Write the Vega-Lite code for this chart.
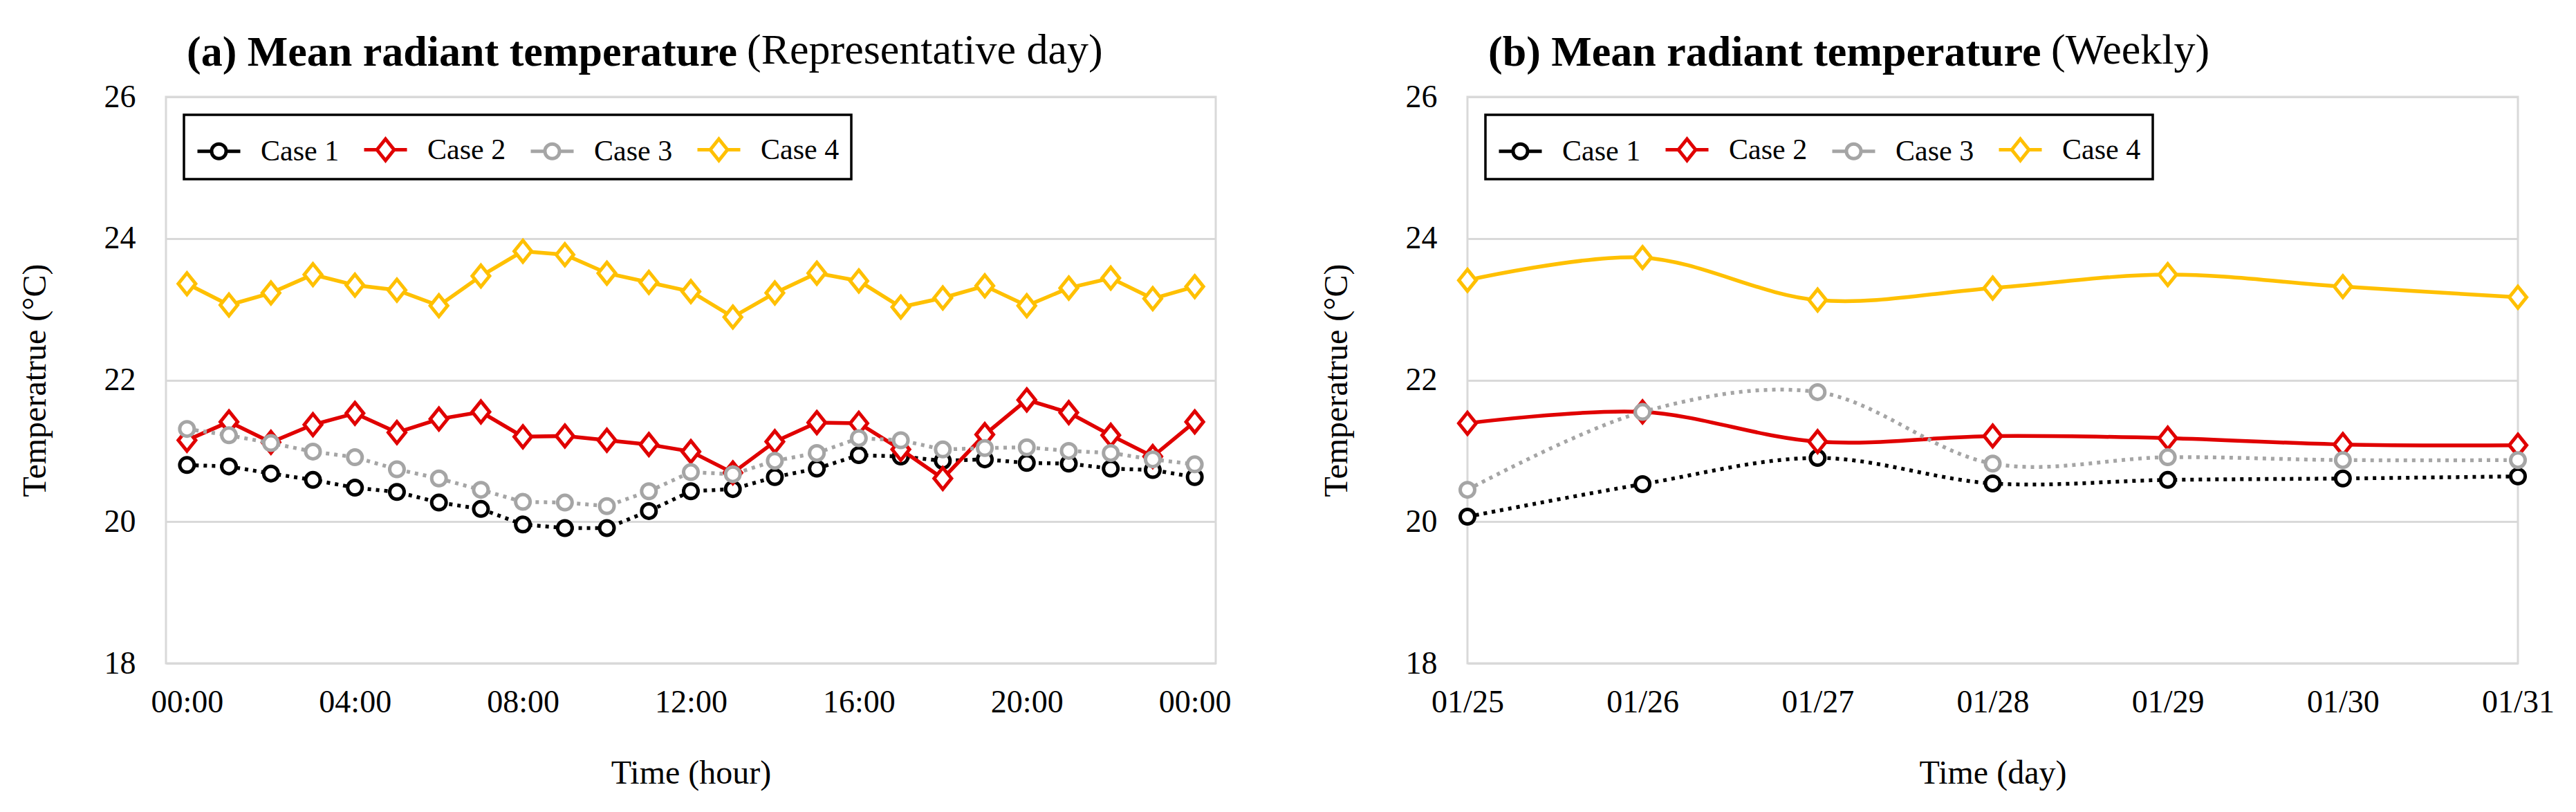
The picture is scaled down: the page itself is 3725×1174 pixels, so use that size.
{
  "$schema": "https://vega.github.io/schema/vega-lite/v6.json",
  "padding": {"left": 25, "top": 41, "right": 0, "bottom": 0},
  "background": "white",
  "config": {
    "font": "Liberation Serif",
    "view": {"stroke": "#D9D9D9", "strokeWidth": 3},
    "axis": {
      "labelFont": "Liberation Serif", "titleFont": "Liberation Serif",
      "labelFontSize": 46, "titleFontSize": 48, "titleFontWeight": "normal",
      "labelColor": "black", "titleColor": "black",
      "domain": false, "ticks": false, "tickSize": 0,
      "gridColor": "#D9D9D9", "gridWidth": 3, "labelFlush": false
    },
    "legend": {
      "orient": "top-left", "offset": 26, "padding": 17,
      "strokeColor": "black", "strokeWidth": 3.5, "fillColor": "white",
      "direction": "horizontal", "columns": 4, "columnPadding": 25,
      "labelOffset": 27, "labelFont": "Liberation Serif", "labelFontSize": 42,
      "labelColor": "black", "symbolSize": 3844, "symbolStrokeWidth": 5,
      "title": null
    }
  },
  "datasets": {
    "hourly": [
      {"case": "Case 1", "hour": 0, "t": 20.80}, {"case": "Case 1", "hour": 1, "t": 20.78}, {"case": "Case 1", "hour": 2, "t": 20.68}, {"case": "Case 1", "hour": 3, "t": 20.59}, {"case": "Case 1", "hour": 4, "t": 20.48}, {"case": "Case 1", "hour": 5, "t": 20.42}, {"case": "Case 1", "hour": 6, "t": 20.27}, {"case": "Case 1", "hour": 7, "t": 20.18}, {"case": "Case 1", "hour": 8, "t": 19.96}, {"case": "Case 1", "hour": 9, "t": 19.91}, {"case": "Case 1", "hour": 10, "t": 19.91}, {"case": "Case 1", "hour": 11, "t": 20.15}, {"case": "Case 1", "hour": 12, "t": 20.43}, {"case": "Case 1", "hour": 13, "t": 20.46}, {"case": "Case 1", "hour": 14, "t": 20.63}, {"case": "Case 1", "hour": 15, "t": 20.75}, {"case": "Case 1", "hour": 16, "t": 20.94}, {"case": "Case 1", "hour": 17, "t": 20.92}, {"case": "Case 1", "hour": 18, "t": 20.86}, {"case": "Case 1", "hour": 19, "t": 20.88}, {"case": "Case 1", "hour": 20, "t": 20.83}, {"case": "Case 1", "hour": 21, "t": 20.82}, {"case": "Case 1", "hour": 22, "t": 20.75}, {"case": "Case 1", "hour": 23, "t": 20.73}, {"case": "Case 1", "hour": 24, "t": 20.63},
      {"case": "Case 2", "hour": 0, "t": 21.15}, {"case": "Case 2", "hour": 1, "t": 21.41}, {"case": "Case 2", "hour": 2, "t": 21.12}, {"case": "Case 2", "hour": 3, "t": 21.37}, {"case": "Case 2", "hour": 4, "t": 21.53}, {"case": "Case 2", "hour": 5, "t": 21.26}, {"case": "Case 2", "hour": 6, "t": 21.45}, {"case": "Case 2", "hour": 7, "t": 21.55}, {"case": "Case 2", "hour": 8, "t": 21.20}, {"case": "Case 2", "hour": 9, "t": 21.21}, {"case": "Case 2", "hour": 10, "t": 21.15}, {"case": "Case 2", "hour": 11, "t": 21.09}, {"case": "Case 2", "hour": 12, "t": 20.99}, {"case": "Case 2", "hour": 13, "t": 20.69}, {"case": "Case 2", "hour": 14, "t": 21.13}, {"case": "Case 2", "hour": 15, "t": 21.40}, {"case": "Case 2", "hour": 16, "t": 21.39}, {"case": "Case 2", "hour": 17, "t": 21.02}, {"case": "Case 2", "hour": 18, "t": 20.61}, {"case": "Case 2", "hour": 19, "t": 21.23}, {"case": "Case 2", "hour": 20, "t": 21.72}, {"case": "Case 2", "hour": 21, "t": 21.54}, {"case": "Case 2", "hour": 22, "t": 21.22}, {"case": "Case 2", "hour": 23, "t": 20.92}, {"case": "Case 2", "hour": 24, "t": 21.41},
      {"case": "Case 3", "hour": 0, "t": 21.31}, {"case": "Case 3", "hour": 1, "t": 21.22}, {"case": "Case 3", "hour": 2, "t": 21.11}, {"case": "Case 3", "hour": 3, "t": 20.99}, {"case": "Case 3", "hour": 4, "t": 20.91}, {"case": "Case 3", "hour": 5, "t": 20.74}, {"case": "Case 3", "hour": 6, "t": 20.61}, {"case": "Case 3", "hour": 7, "t": 20.45}, {"case": "Case 3", "hour": 8, "t": 20.28}, {"case": "Case 3", "hour": 9, "t": 20.27}, {"case": "Case 3", "hour": 10, "t": 20.22}, {"case": "Case 3", "hour": 11, "t": 20.43}, {"case": "Case 3", "hour": 12, "t": 20.70}, {"case": "Case 3", "hour": 13, "t": 20.67}, {"case": "Case 3", "hour": 14, "t": 20.86}, {"case": "Case 3", "hour": 15, "t": 20.97}, {"case": "Case 3", "hour": 16, "t": 21.18}, {"case": "Case 3", "hour": 17, "t": 21.15}, {"case": "Case 3", "hour": 18, "t": 21.02}, {"case": "Case 3", "hour": 19, "t": 21.04}, {"case": "Case 3", "hour": 20, "t": 21.05}, {"case": "Case 3", "hour": 21, "t": 21.00}, {"case": "Case 3", "hour": 22, "t": 20.97}, {"case": "Case 3", "hour": 23, "t": 20.88}, {"case": "Case 3", "hour": 24, "t": 20.81},
      {"case": "Case 4", "hour": 0, "t": 23.36}, {"case": "Case 4", "hour": 1, "t": 23.06}, {"case": "Case 4", "hour": 2, "t": 23.23}, {"case": "Case 4", "hour": 3, "t": 23.49}, {"case": "Case 4", "hour": 4, "t": 23.34}, {"case": "Case 4", "hour": 5, "t": 23.27}, {"case": "Case 4", "hour": 6, "t": 23.05}, {"case": "Case 4", "hour": 7, "t": 23.47}, {"case": "Case 4", "hour": 8, "t": 23.82}, {"case": "Case 4", "hour": 9, "t": 23.77}, {"case": "Case 4", "hour": 10, "t": 23.51}, {"case": "Case 4", "hour": 11, "t": 23.38}, {"case": "Case 4", "hour": 12, "t": 23.25}, {"case": "Case 4", "hour": 13, "t": 22.89}, {"case": "Case 4", "hour": 14, "t": 23.23}, {"case": "Case 4", "hour": 15, "t": 23.51}, {"case": "Case 4", "hour": 16, "t": 23.40}, {"case": "Case 4", "hour": 17, "t": 23.03}, {"case": "Case 4", "hour": 18, "t": 23.16}, {"case": "Case 4", "hour": 19, "t": 23.33}, {"case": "Case 4", "hour": 20, "t": 23.05}, {"case": "Case 4", "hour": 21, "t": 23.30}, {"case": "Case 4", "hour": 22, "t": 23.44}, {"case": "Case 4", "hour": 23, "t": 23.15}, {"case": "Case 4", "hour": 24, "t": 23.32}
    ],
    "weekly": [
      {"case": "Case 1", "day": "01/25", "t": 20.07}, {"case": "Case 1", "day": "01/26", "t": 20.53}, {"case": "Case 1", "day": "01/27", "t": 20.90}, {"case": "Case 1", "day": "01/28", "t": 20.54}, {"case": "Case 1", "day": "01/29", "t": 20.59}, {"case": "Case 1", "day": "01/30", "t": 20.61}, {"case": "Case 1", "day": "01/31", "t": 20.64},
      {"case": "Case 2", "day": "01/25", "t": 21.39}, {"case": "Case 2", "day": "01/26", "t": 21.55}, {"case": "Case 2", "day": "01/27", "t": 21.13}, {"case": "Case 2", "day": "01/28", "t": 21.21}, {"case": "Case 2", "day": "01/29", "t": 21.18}, {"case": "Case 2", "day": "01/30", "t": 21.09}, {"case": "Case 2", "day": "01/31", "t": 21.08},
      {"case": "Case 3", "day": "01/25", "t": 20.45}, {"case": "Case 3", "day": "01/26", "t": 21.55}, {"case": "Case 3", "day": "01/27", "t": 21.83}, {"case": "Case 3", "day": "01/28", "t": 20.82}, {"case": "Case 3", "day": "01/29", "t": 20.91}, {"case": "Case 3", "day": "01/30", "t": 20.87}, {"case": "Case 3", "day": "01/31", "t": 20.87},
      {"case": "Case 4", "day": "01/25", "t": 23.41}, {"case": "Case 4", "day": "01/26", "t": 23.73}, {"case": "Case 4", "day": "01/27", "t": 23.13}, {"case": "Case 4", "day": "01/28", "t": 23.30}, {"case": "Case 4", "day": "01/29", "t": 23.49}, {"case": "Case 4", "day": "01/30", "t": 23.32}, {"case": "Case 4", "day": "01/31", "t": 23.17}
    ]
  },
  "hconcat": [
    {
      "title": {"text": "(Representative day)", "anchor": "start", "frame": "group", "dx": 840, "offset": -110, "fontSize": 62, "fontWeight": "normal", "font": "Liberation Serif", "color": "black", "baseline": "alphabetic"},
      "vconcat": [
        {
          "title": {"text": "(a) Mean radiant temperature", "anchor": "start", "frame": "group", "dx": 30, "offset": -40, "fontSize": 62, "fontWeight": "bold", "font": "Liberation Serif", "color": "black", "baseline": "alphabetic"},
          "width": 1518, "height": 819,
          "data": {"name": "hourly"},
          "encoding": {
            "x": {"field": "hour", "type": "quantitative", "scale": {"domain": [-0.5, 24.5], "nice": false, "zero": false},
                  "axis": {"title": "Time (hour)", "values": [0, 4, 8, 12, 16, 20, 24], "grid": false, "labelPadding": 34, "titlePadding": 56,
                           "labelExpr": "(datum.value % 24 < 10 ? '0' : '') + (datum.value % 24) + ':00'"}},
            "y": {"field": "t", "type": "quantitative", "scale": {"domain": [18, 26], "nice": false, "zero": false},
                  "axis": {"title": "Temperatrue (°C)", "values": [18, 20, 22, 24, 26], "grid": true, "labelPadding": 44, "titlePadding": 75}},
            "color": {"field": "case", "type": "nominal", "scale": {"domain": ["Case 1", "Case 2", "Case 3", "Case 4"], "range": ["#000000", "#E00000", "#A5A5A5", "#FFC000"]},
                      "legend": {"encode": {"symbols": {"update": {
                        "shape": {"signal": "(datum.value == 'Case 1' || datum.value == 'Case 3') ? 'M-1,0L-0.34,0M0.34,0L1,0M0.34,0A0.34,0.34,0,1,1,-0.34,0A0.34,0.34,0,1,1,0.34,0Z' : 'M-1,0L-0.4,0M0.4,0L1,0M0,-0.5L0.4,0L0,0.5L-0.4,0Z'"},
                        "fill": {"value": "white"}, "strokeDash": {"value": []}, "strokeWidth": {"value": 5}, "opacity": {"value": 1}}}}}}
          },
          "layer": [
            {"transform": [{"filter": "datum.case == 'Case 1'"}], "mark": {"type": "line", "strokeWidth": 5.5, "strokeDash": [5, 7]}},
            {"transform": [{"filter": "datum.case == 'Case 1'"}], "mark": {"type": "point", "filled": false, "fill": "white", "strokeWidth": 5, "size": 400, "opacity": 1, "shape": "M1.05,0A1.05,1.05,0,1,1,-1.05,0A1.05,1.05,0,1,1,1.05,0Z"}},
            {"transform": [{"filter": "datum.case == 'Case 2'"}], "mark": {"type": "line", "strokeWidth": 5.5}},
            {"transform": [{"filter": "datum.case == 'Case 2'"}], "mark": {"type": "point", "filled": false, "fill": "white", "strokeWidth": 5, "size": 400, "opacity": 1, "shape": "M0,-1.55L1.25,0L0,1.55L-1.25,0Z"}},
            {"transform": [{"filter": "datum.case == 'Case 3'"}], "mark": {"type": "line", "strokeWidth": 5.5, "strokeDash": [5, 7]}},
            {"transform": [{"filter": "datum.case == 'Case 3'"}], "mark": {"type": "point", "filled": false, "fill": "white", "strokeWidth": 5, "size": 400, "opacity": 1, "shape": "M1.05,0A1.05,1.05,0,1,1,-1.05,0A1.05,1.05,0,1,1,1.05,0Z"}},
            {"transform": [{"filter": "datum.case == 'Case 4'"}], "mark": {"type": "line", "strokeWidth": 5.5}},
            {"transform": [{"filter": "datum.case == 'Case 4'"}], "mark": {"type": "point", "filled": false, "fill": "white", "strokeWidth": 5, "size": 400, "opacity": 1, "shape": "M0,-1.55L1.25,0L0,1.55L-1.25,0Z"}}
          ]
        }
      ],
      "resolve": {"scale": {"color": "independent"}, "legend": {"color": "independent"}}
    },
    {
      "title": {"text": "(Weekly)", "anchor": "start", "frame": "group", "dx": 844, "offset": -110, "fontSize": 62, "fontWeight": "normal", "font": "Liberation Serif", "color": "black", "baseline": "alphabetic"},
      "vconcat": [
        {
          "title": {"text": "(b) Mean radiant temperature", "anchor": "start", "frame": "group", "dx": 30, "offset": -40, "fontSize": 62, "fontWeight": "bold", "font": "Liberation Serif", "color": "black", "baseline": "alphabetic"},
          "width": 1519, "height": 819,
          "data": {"name": "weekly"},
          "encoding": {
            "x": {"field": "day", "type": "ordinal", "scale": {"padding": 0},
                  "axis": {"title": "Time (day)", "grid": false, "labelAngle": 0, "labelPadding": 34, "titlePadding": 56}},
            "y": {"field": "t", "type": "quantitative", "scale": {"domain": [18, 26], "nice": false, "zero": false},
                  "axis": {"title": "Temperatrue (°C)", "values": [18, 20, 22, 24, 26], "grid": true, "labelPadding": 44, "titlePadding": 75}},
            "color": {"field": "case", "type": "nominal", "scale": {"domain": ["Case 1", "Case 2", "Case 3", "Case 4"], "range": ["#000000", "#E00000", "#A5A5A5", "#FFC000"]},
                      "legend": {"encode": {"symbols": {"update": {
                        "shape": {"signal": "(datum.value == 'Case 1' || datum.value == 'Case 3') ? 'M-1,0L-0.34,0M0.34,0L1,0M0.34,0A0.34,0.34,0,1,1,-0.34,0A0.34,0.34,0,1,1,0.34,0Z' : 'M-1,0L-0.4,0M0.4,0L1,0M0,-0.5L0.4,0L0,0.5L-0.4,0Z'"},
                        "fill": {"value": "white"}, "strokeDash": {"value": []}, "strokeWidth": {"value": 5}, "opacity": {"value": 1}}}}}}
          },
          "layer": [
            {"transform": [{"filter": "datum.case == 'Case 1'"}], "mark": {"type": "line", "strokeWidth": 5.5, "strokeDash": [5, 7], "interpolate": "catmull-rom"}},
            {"transform": [{"filter": "datum.case == 'Case 1'"}], "mark": {"type": "point", "filled": false, "fill": "white", "strokeWidth": 5, "size": 400, "opacity": 1, "shape": "M1.05,0A1.05,1.05,0,1,1,-1.05,0A1.05,1.05,0,1,1,1.05,0Z"}},
            {"transform": [{"filter": "datum.case == 'Case 2'"}], "mark": {"type": "line", "strokeWidth": 5.5, "interpolate": "catmull-rom"}},
            {"transform": [{"filter": "datum.case == 'Case 2'"}], "mark": {"type": "point", "filled": false, "fill": "white", "strokeWidth": 5, "size": 400, "opacity": 1, "shape": "M0,-1.55L1.25,0L0,1.55L-1.25,0Z"}},
            {"transform": [{"filter": "datum.case == 'Case 3'"}], "mark": {"type": "line", "strokeWidth": 5.5, "strokeDash": [5, 7], "interpolate": "catmull-rom"}},
            {"transform": [{"filter": "datum.case == 'Case 3'"}], "mark": {"type": "point", "filled": false, "fill": "white", "strokeWidth": 5, "size": 400, "opacity": 1, "shape": "M1.05,0A1.05,1.05,0,1,1,-1.05,0A1.05,1.05,0,1,1,1.05,0Z"}},
            {"transform": [{"filter": "datum.case == 'Case 4'"}], "mark": {"type": "line", "strokeWidth": 5.5, "interpolate": "catmull-rom"}},
            {"transform": [{"filter": "datum.case == 'Case 4'"}], "mark": {"type": "point", "filled": false, "fill": "white", "strokeWidth": 5, "size": 400, "opacity": 1, "shape": "M0,-1.55L1.25,0L0,1.55L-1.25,0Z"}}
          ]
        }
      ],
      "resolve": {"scale": {"color": "independent"}, "legend": {"color": "independent"}}
    }
  ],
  "spacing": 125,
  "resolve": {"scale": {"color": "independent", "x": "independent", "y": "independent"}, "legend": {"color": "independent"}}
}
